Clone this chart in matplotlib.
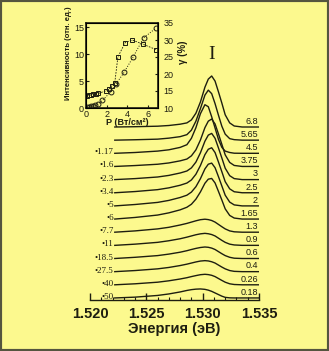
import numpy as np
import matplotlib.pyplot as plt
from matplotlib.patches import Rectangle

plt.rcParams['font.family'] = ['Liberation Sans', 'DejaVu Sans']

# photon energy grid (eV), shared by all spectra
energy = [1.5222, 1.524, 1.526, 1.527, 1.528, 1.5286, 1.529, 1.5294, 1.5298, 1.5302,
          1.5305, 1.5308, 1.5311, 1.5314, 1.5317, 1.532, 1.5324, 1.5328, 1.5335, 1.535]

# PL spectra, top to bottom (arb. units above each baseline)
spec_68 = [0, 0.3, 0.8, 1.5, 2.8, 4.1, 7.1, 13.8, 25.0, 39.8, 47.9, 51.0, 45.9, 35.2, 24.0, 12.2, 4.1, 1.0, 0, 0]
spec_565 = [0, 0.4, 1.0, 2.0, 3.5, 5.5, 10.0, 19.0, 31.5, 45.0, 50.0, 46.5, 36.5, 25.0, 14.0, 6.0, 1.5, 0.5, 0, 0]
spec_45 = [0, 0.8, 2.2, 3.5, 5.9, 8.6, 15.0, 25.6, 39.6, 48.6, 46.6, 36.5, 25.3, 14.0, 6.0, 2.2, 0.8, 0.1, 0, 0]
spec_375 = [0, 0.9, 2.2, 3.5, 5.6, 7.4, 10.6, 16.6, 26.4, 38.8, 45.3, 47.4, 42.5, 32.6, 22.2, 11.6, 4.0, 1.0, 0, 0]
spec_3 = [0, 1.0, 2.6, 4.2, 6.6, 8.6, 11.7, 17.5, 26.8, 38.4, 44.5, 46.2, 41.3, 31.7, 21.7, 11.4, 3.9, 1.0, 0, 0]
spec_25 = [0, 1.2, 3.1, 4.9, 7.5, 9.7, 12.8, 18.5, 27.2, 38.1, 43.5, 45.0, 40.2, 30.8, 21.1, 11.1, 3.9, 1.0, 0, 0]
spec_2 = [0, 1.4, 3.5, 5.5, 8.4, 10.7, 13.8, 19.2, 27.2, 37.0, 41.7, 42.8, 38.2, 29.3, 20.0, 10.7, 3.8, 1.0, 0, 0]
spec_165 = [0, 1.6, 4.0, 6.2, 9.2, 11.8, 14.8, 19.9, 27.1, 35.8, 39.9, 40.6, 36.1, 27.7, 19.1, 10.2, 3.6, 1.0, 0, 0]
spec_13 = [0, 1.3, 3.3, 4.9, 7.2, 8.8, 10.1, 11.4, 12.5, 13.0, 12.6, 11.7, 10.1, 7.8, 5.5, 3.3, 1.3, 0.4, 0, 0]
spec_09 = [0, 1.2, 3.0, 4.6, 6.6, 8.2, 9.4, 10.6, 11.5, 12.0, 11.6, 10.8, 9.4, 7.2, 5.0, 3.0, 1.2, 0.4, 0, 0]
spec_06 = [0, 1.2, 2.9, 4.4, 6.3, 7.8, 9.0, 10.1, 11.0, 11.5, 11.2, 10.4, 9.0, 6.9, 4.8, 2.9, 1.2, 0.3, 0, 0]
spec_04 = [0, 1.1, 2.8, 4.2, 6.1, 7.5, 8.6, 9.7, 10.6, 11.0, 10.7, 9.9, 8.6, 6.6, 4.6, 2.8, 1.1, 0.3, 0, 0]
spec_026 = [0, 1.0, 2.6, 4.0, 5.8, 7.1, 8.2, 9.2, 10.1, 10.5, 10.2, 9.5, 8.2, 6.3, 4.4, 2.6, 1.0, 0.3, 0, 0]
spec_018 = [0, 0.8, 2.5, 4.0, 6.0, 7.5, 8.3, 8.8, 9.0, 8.6, 7.8, 6.6, 5.0, 3.4, 1.8, 0.6, 0.1, 0, 0, 0]
spectra = [spec_68, spec_565, spec_45, spec_375, spec_3, spec_25, spec_2, spec_165,
           spec_13, spec_09, spec_06, spec_04, spec_026, spec_018]

right_labels = ['6.8', '5.65', '4.5', '3.75', '3', '2.5', '2', '1.65',
                '1.3', '0.9', '0.6', '0.4', '0.26', '0.18']
left_labels = ['', '', '•1.17', '•1.6', '•2.3', '•3.4', '•5', '•6',
               '•7.7', '•11', '•18.5', '•27.5', '•40', '•50']

# inset: intensity (circles) and gamma (squares) vs pump power
p_circ = [0.1, 0.3, 0.5, 0.7, 0.9, 1.2, 1.6, 2.4, 2.9, 3.7, 4.6, 5.6, 6.8]
int_circ = [0.1, 0.2, 0.3, 0.4, 0.6, 0.8, 1.4, 3.0, 4.4, 6.6, 9.5, 13.0, 14.8]
p_sq = [0.1, 0.3, 0.5, 0.7, 1.0, 1.2, 1.9, 2.2, 2.5, 2.8, 3.1, 3.8, 4.5, 5.5, 6.8]
gamma_sq = [13.5, 13.7, 13.9, 14.0, 14.2, 14.3, 15.0, 15.5, 16.5, 17.5, 25.0, 29.2, 30.0, 28.8, 27.2]

bg = '#fcf98e'
ink = '#1e1e10'
step = 13.15

fig = plt.figure(figsize=(3.29, 3.51), dpi=100, facecolor=bg)
ax = fig.add_axes([90 / 329, 51 / 351, 169 / 329, 290 / 351])
ax.set_facecolor('none')
ax.set_xlim(1.520, 1.535)
ax.set_ylim(-173, 117)

for i, s in enumerate(spectra):
    base = -step * i
    ax.plot(energy, base + np.array(s), color=ink, lw=1.0)
    ax.text(1.5349, base + 1.2, right_labels[i], ha='right', va='bottom',
            fontsize=6.5, color=ink)
    if left_labels[i]:
        ax.text(1.5221, base + 1, left_labels[i], ha='right', va='center',
                fontsize=6.5, color=ink, family=['Liberation Serif', 'DejaVu Serif'])

# spectral resolution bar
ax.text(1.5308, 72.5, 'I', ha='center', va='center', fontsize=14, color=ink,
        family=['Liberation Serif', 'DejaVu Serif'])

for sp in ['left', 'right', 'top']:
    ax.spines[sp].set_visible(False)
ax.spines['bottom'].set_color(ink)
ax.spines['bottom'].set_linewidth(1.0)
ax.set_yticks([])
ax.set_xticks([1.520, 1.525, 1.530, 1.535])
ax.set_xticklabels(['1.520', '1.525', '1.530', '1.535'])
ax.set_xticks(np.arange(1.520, 1.5351, 0.001), minor=True)
ax.tick_params(axis='x', which='major', direction='in', length=5, width=1,
               labelsize=10.5, pad=5, colors=ink)
ax.tick_params(axis='x', which='minor', direction='in', length=2.5, width=0.8, colors=ink)
for t in ax.get_xticklabels():
    t.set_fontweight('bold')
ax.set_xlabel('Энергия (эВ)', fontsize=10.5, fontweight='bold', labelpad=1, color=ink)

# inset
ins = fig.add_axes([86 / 329, 243 / 351, 72 / 329, 85 / 351])
ins.set_facecolor('none')
ins.set_xlim(0, 7)
ins.set_ylim(0, 15.75)
ins.plot(p_circ, int_circ, linestyle=':', color=ink, lw=0.7, marker='o', ms=3.5,
         mfc='none', mec=ink, mew=0.7)
ins.set_xticks([0, 2, 4, 6])
ins.set_yticks([0, 5, 10, 15])
ins.tick_params(direction='in', length=2, labelsize=6.5, pad=1.5, colors=ink)
for sp in ins.spines.values():
    sp.set_linewidth(1.2)
    sp.set_color(ink)
ins.set_ylabel('Интенсивность (отн. ед.)', fontsize=5.5, fontweight='bold', color=ink)
ins.yaxis.set_label_coords(-0.2, 0.64)
ins.text(0.57, -0.17, 'P (Вт/см²)', transform=ins.transAxes, ha='center', va='center',
         fontsize=6.5, fontweight='bold', color=ink)

ins2 = ins.twinx()
ins2.set_ylim(10, 35)
ins2.plot(p_sq, gamma_sq, linestyle='--', dashes=(2, 1.5), color=ink, lw=0.6, marker='s',
          ms=3.5, mfc='none', mec=ink, mew=0.7)
ins2.set_yticks([10, 15, 20, 25, 30, 35])
ins2.tick_params(direction='in', length=2, labelsize=6.5, pad=4, colors=ink)
ins2.text(1.35, 0.66, 'γ (%)', transform=ins.transAxes, rotation=90, ha='center',
          va='center', fontsize=7, fontweight='bold', color=ink)

fig.patches.append(Rectangle((0, 0), 1, 1, transform=fig.transFigure, fill=False,
                             ec='#55553f', lw=3))

fig.savefig('out.png', dpi=100, facecolor=bg)
